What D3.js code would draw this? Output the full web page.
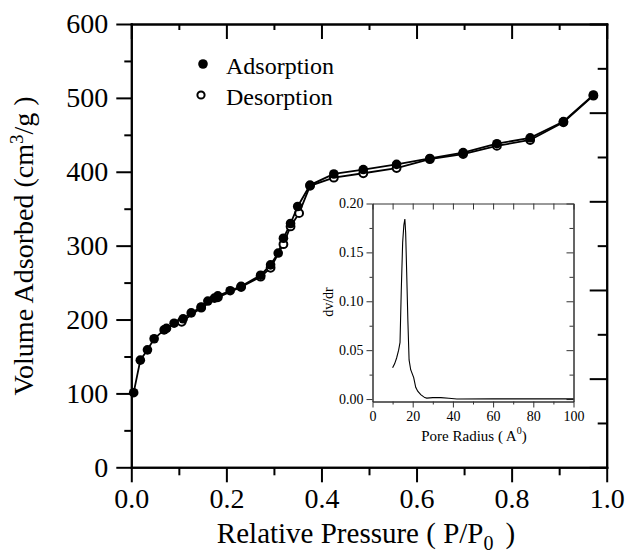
<!DOCTYPE html>
<html>
<head>
<meta charset="utf-8">
<script src="https://cdn.jsdelivr.net/npm/d3@7"></script>
<style>
  body { margin: 0; background: #fff; }
  svg text { font-family: "Liberation Serif", "DejaVu Serif", serif !important; fill: #000; }
</style>
</head>
<body>
<div id="chart"></div>
<script>
// isotherm data
const adsX = [0.005, 0.019, 0.034, 0.048, 0.069, 0.074, 0.090, 0.109, 0.126, 0.147, 0.161, 0.175, 0.182, 0.208, 0.231, 0.272, 0.293, 0.309, 0.320, 0.335, 0.350, 0.376, 0.426, 0.488, 0.558, 0.628, 0.698, 0.769, 0.839, 0.909, 0.972];
const adsV = [101, 145, 159, 174, 186, 188, 195, 201, 209, 217, 225, 229, 232, 239, 245, 260, 274, 290, 310, 330, 353, 382, 397, 403, 410, 418, 426, 438, 446, 468, 504];
const desX = [0.972, 0.909, 0.839, 0.769, 0.698, 0.628, 0.558, 0.488, 0.426, 0.376, 0.353, 0.335, 0.320, 0.293, 0.272, 0.231, 0.182, 0.147, 0.106];
const desV = [503, 467, 443, 435, 424, 417, 405, 398, 392, 381, 344, 326, 302, 270, 258, 244, 230, 216, 197];

// pore size distribution (inset)
const poreR = [10, 11, 12, 13, 13.7, 14.3, 15, 15.6, 16.1, 16.5, 17, 17.6, 18.2, 19, 20.5, 21.5, 22.5, 24, 26, 27, 30, 34, 38, 42, 60, 100];
const poreDv = [0.032, 0.036, 0.042, 0.050, 0.058, 0.11, 0.16, 0.178, 0.184, 0.17, 0.13, 0.08, 0.04, 0.03, 0.022, 0.012, 0.008, 0.0045, 0.0015, 0.001, 0.0015, 0.0015, 0.0008, 0, 0.0002, 0.0002];

const xTicks = [0, 0.2, 0.4, 0.6, 0.8, 1.0];
const yTicks = [0, 100, 200, 300, 400, 500, 600];
const insetXTicks = [0, 20, 40, 60, 80, 100];
const insetYTicks = [0, 0.05, 0.10, 0.15, 0.20];

const W = 629, H = 554;
const FONT = '"Liberation Serif", "DejaVu Serif", serif';
const svg = d3.select("#chart").append("svg")
  .attr("width", W).attr("height", H)
  .attr("font-family", FONT);

// main scales
const x = d3.scaleLinear().domain([0, 1]).range([131.3, 606.7]);
const y = d3.scaleLinear().domain([0, 600]).range([467.3, 24]);
const yR = d3.scaleLinear().domain([0, 600]).range([467.3, 24]);

function styleAxis(g, sw) {
  g.attr("font-family", FONT);
  g.selectAll("path, line").attr("stroke", "#000").attr("stroke-width", sw);
  g.select(".domain").attr("stroke-linecap", "square");
}

// bottom
svg.append("g").attr("transform", `translate(0,${y(0)})`)
  .call(d3.axisBottom(x).tickValues(xTicks).tickSize(15).tickSizeOuter(0).tickPadding(6).tickFormat(d3.format(".1f")))
  .call(g => styleAxis(g, 2))
  .call(g => g.selectAll("text").attr("font-size", 28));
svg.append("g").attr("transform", `translate(0,${y(0)})`)
  .call(d3.axisBottom(x).tickValues([0.1, 0.3, 0.5, 0.7, 0.9]).tickSize(8).tickSizeOuter(0).tickFormat(""))
  .call(g => styleAxis(g, 2));
// top
svg.append("g").attr("transform", `translate(0,${y(600)})`)
  .call(d3.axisTop(x).tickValues(xTicks).tickSize(-15).tickSizeOuter(0).tickFormat(""))
  .call(g => styleAxis(g, 2));
svg.append("g").attr("transform", `translate(0,${y(600)})`)
  .call(d3.axisTop(x).tickValues([0.1, 0.3, 0.5, 0.7, 0.9]).tickSize(-6).tickSizeOuter(0).tickFormat(""))
  .call(g => styleAxis(g, 2));
// left
svg.append("g").attr("transform", `translate(${x(0)},0)`)
  .call(d3.axisLeft(y).tickValues(yTicks).tickSize(15).tickSizeOuter(0).tickPadding(8))
  .call(g => styleAxis(g, 2))
  .call(g => g.selectAll("text").attr("font-size", 28));
svg.append("g").attr("transform", `translate(${x(0)},0)`)
  .call(d3.axisLeft(y).tickValues([50, 150, 250, 350, 450, 550]).tickSize(7).tickSizeOuter(0).tickFormat(""))
  .call(g => styleAxis(g, 2));
// right (own tick spacing, no labels)
svg.append("g").attr("transform", `translate(${x(1)},0)`)
  .call(d3.axisRight(yR).tickValues([0, 120, 240, 360, 480, 600]).tickSize(-17).tickSizeOuter(0).tickFormat(""))
  .call(g => styleAxis(g, 2));
svg.append("g").attr("transform", `translate(${x(1)},0)`)
  .call(d3.axisRight(yR).tickValues([60, 180, 300, 420, 540]).tickSize(-9).tickSizeOuter(0).tickFormat(""))
  .call(g => styleAxis(g, 2));

// axis titles
const yt = svg.append("text")
  .attr("transform", "translate(33,246) rotate(-90)")
  .attr("text-anchor", "middle").attr("font-size", 28);
yt.append("tspan").text("Volume Adsorbed (cm");
yt.append("tspan").attr("dy", -10).attr("font-size", 19).text("3");
yt.append("tspan").attr("dy", 10).text("/g )");

const xt = svg.append("text")
  .attr("x", 366).attr("y", 543)
  .attr("text-anchor", "middle").attr("font-size", 29);
xt.append("tspan").text("Relative Pressure ( P/P");
xt.append("tspan").attr("dy", 7).attr("font-size", 20).text("0");
xt.append("tspan").attr("dy", -7).attr("dx", 12).text(")");

// main lines
const ads = adsX.map((d, i) => [d, adsV[i]]);
const des = desX.map((d, i) => [d, desV[i]]);
const line = d3.line().x(d => x(d[0])).y(d => y(d[1]));

svg.append("path").datum(des).attr("d", line)
  .attr("fill", "none").attr("stroke", "#000").attr("stroke-width", 1.8);
svg.append("path").datum(ads).attr("d", line)
  .attr("fill", "none").attr("stroke", "#000").attr("stroke-width", 1.8);

svg.selectAll(".des").data(des).join("circle")
  .attr("cx", d => x(d[0])).attr("cy", d => y(d[1])).attr("r", 3.9)
  .attr("fill", "#fff").attr("stroke", "#000").attr("stroke-width", 2);
svg.selectAll(".ads").data(ads).join("circle")
  .attr("cx", d => x(d[0])).attr("cy", d => y(d[1])).attr("r", 4.8)
  .attr("fill", "#000");

// legend
svg.append("circle").attr("cx", 203).attr("cy", 64).attr("r", 4.8).attr("fill", "#000");
svg.append("text").attr("x", 226).attr("y", 74).attr("font-size", 24).text("Adsorption");
svg.append("circle").attr("cx", 201).attr("cy", 95).attr("r", 3.6)
  .attr("fill", "#fff").attr("stroke", "#000").attr("stroke-width", 2);
svg.append("text").attr("x", 226).attr("y", 105).attr("font-size", 24).text("Desorption");

// inset
const ix = d3.scaleLinear().domain([0, 100]).range([372.5, 573.5]);
const iy = d3.scaleLinear().domain([-0.0025, 0.2]).range([401.5, 203.5]);
const inset = svg.append("g");
inset.append("rect").attr("x", ix(0)).attr("y", iy(0.2)).attr("width", ix(100) - ix(0)).attr("height", iy(-0.0025) - iy(0.2))
  .attr("fill", "#fff");

function styleInset(g) {
  g.attr("font-family", FONT);
  g.selectAll("path, line").attr("stroke", "#333").attr("stroke-width", 1);
  g.selectAll("text").attr("font-size", 14).attr("fill", "#222");
}
inset.append("g").attr("transform", `translate(0,${iy(-0.0025)})`)
  .call(d3.axisBottom(ix).tickValues(insetXTicks).tickSize(6).tickSizeOuter(0).tickPadding(4))
  .call(styleInset);
inset.append("g").attr("transform", `translate(0,${iy(-0.0025)})`)
  .call(d3.axisBottom(ix).tickValues([10, 30, 50, 70, 90]).tickSize(3).tickSizeOuter(0).tickFormat(""))
  .call(styleInset);
inset.append("g").attr("transform", `translate(0,${iy(0.2)})`)
  .call(d3.axisTop(ix).tickValues(d3.range(0, 101, 10)).tickSize(-6).tickSizeOuter(0).tickFormat(""))
  .call(styleInset);
inset.append("g").attr("transform", `translate(${ix(0)},0)`)
  .call(d3.axisLeft(iy).tickValues(insetYTicks).tickSize(6).tickSizeOuter(0).tickPadding(3).tickFormat(d3.format(".2f")))
  .call(styleInset);
inset.append("g").attr("transform", `translate(${ix(0)},0)`)
  .call(d3.axisLeft(iy).tickValues([0.025, 0.075, 0.125, 0.175]).tickSize(3).tickSizeOuter(0).tickFormat(""))
  .call(styleInset);
inset.append("g").attr("transform", `translate(${ix(100)},0)`)
  .call(d3.axisRight(iy).tickValues(insetYTicks).tickSize(-7).tickSizeOuter(0).tickFormat(""))
  .call(styleInset);
inset.append("g").attr("transform", `translate(${ix(100)},0)`)
  .call(d3.axisRight(iy).tickValues([0.025, 0.075, 0.125, 0.175]).tickSize(-4).tickSizeOuter(0).tickFormat(""))
  .call(styleInset);

inset.append("path").datum(poreR.map((d, i) => [d, poreDv[i]]))
  .attr("d", d3.line().x(d => ix(d[0])).y(d => iy(d[1])))
  .attr("fill", "none").attr("stroke", "#000").attr("stroke-width", 1.1);

inset.append("text").attr("transform", "translate(333,302) rotate(-90)")
  .attr("text-anchor", "middle").attr("font-size", 14).attr("fill", "#222").text("dv/dr");
const it = inset.append("text").attr("x", 474).attr("y", 441)
  .attr("text-anchor", "middle").attr("font-size", 15).attr("fill", "#222");
it.append("tspan").text("Pore Radius ( A");
it.append("tspan").attr("dy", -7).attr("font-size", 10).text("0");
it.append("tspan").attr("dy", 7).text(")");
</script>
</body>
</html>
